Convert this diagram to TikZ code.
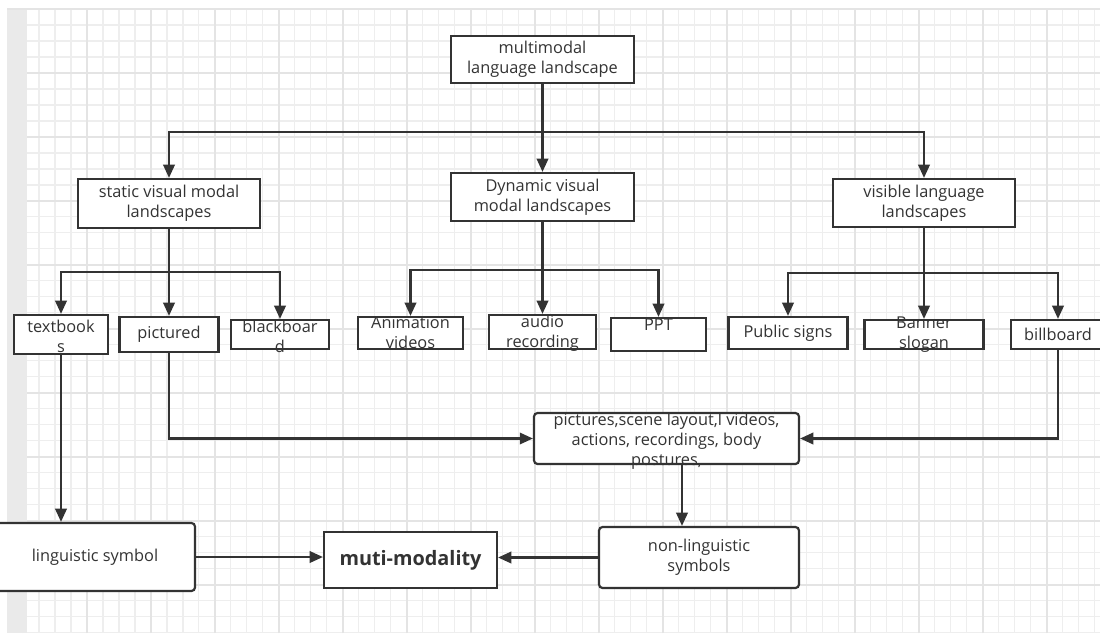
\documentclass[tikz,border=0pt]{standalone}
\usepackage{fontspec}
\setmainfont{Open Sans}
\usetikzlibrary{arrows.meta}

\definecolor{linegray}{HTML}{333333}
\definecolor{gridminor}{HTML}{EEEEEE}
\definecolor{gridmajor}{HTML}{E4E4E4}
\definecolor{stripgray}{HTML}{EAEAEA}

\begin{document}
\begin{tikzpicture}[x=0.02cm, y=-0.02cm,
  box/.style={rectangle, draw=linegray, line width=1.25pt, fill=white, inner sep=0pt,
              align=center, text=linegray, font=\fontsize{9.3}{11.4}\selectfont},
  rbox/.style={box, rounded corners=2pt},
  lbl/.style={align=center, text=linegray, inner sep=0pt, font=\fontsize{9.3}{11.4}\selectfont},
  arr/.style={draw=linegray, line width=1.25pt, -{Triangle[length=7.5pt,width=6.5pt]}}]

  % page and grid paper
  \useasboundingbox (0,0) rectangle (1100,633);
  \clip (0,0) rectangle (1100,633);
  \fill[white] (0,0) rectangle (1100,633);
  \begin{scope}[shift={(23,9)}]
    \draw[gridminor, line width=0.6pt] (0,0) grid[step=0.32cm] (1077,624);
    \draw[gridmajor, line width=0.8pt] (0,0) grid[step=1.28cm] (1077,624);
  \end{scope}
  \fill[stripgray] (7,9) rectangle (27,633);
  \draw[gridmajor, line width=0.8pt] (7,9) -- (1100,9);

  % top
  \node[box, minimum width=3.66cm, minimum height=0.94cm] (landscape)
        at (542.5,59.5) {multimodal\\language landscape};

  % second level
  \node[box, minimum width=3.64cm, minimum height=0.98cm] (static)
        at (169,203.5) {static visual modal\\landscapes};
  \node[box, minimum width=3.66cm, minimum height=0.96cm] (dynamic)
        at (542.5,197) {Dynamic visual\\modal landscapes};
  \node[box, minimum width=3.64cm, minimum height=0.96cm] (visible)
        at (924,203) {visible language\\landscapes};

  \coordinate (hub-top) at (542.5,132);
  \draw[arr] (landscape.south) -- (hub-top) -| (static.north);
  \draw[arr] (landscape.south) -- (dynamic.north);
  \draw[arr] (hub-top) -| (visible.north);

  % static children
  \node[box, minimum width=1.88cm, minimum height=0.78cm] (textbooks) at (61,334.5) {};
  \node[lbl] (textbooks-t) at (61,336) {textbook\\s};
  \node[box, minimum width=1.98cm, minimum height=0.70cm] (pictured) at (169,334.5) {pictured};
  \node[box, minimum width=1.96cm, minimum height=0.58cm] (blackboard) at (280,334.5) {};
  \node[lbl] (blackboard-t) at (280,336) {blackboar\\d};

  \coordinate (hub-static) at (169,272);
  \draw[arr] (static.south) -- (hub-static) -| (textbooks.north);
  \draw[arr] (hub-static) -- (pictured.north);
  \draw[arr] (hub-static) -| (blackboard.north);

  % dynamic children
  \node[box, minimum width=2.10cm, minimum height=0.64cm] (animation) at (410.5,333) {};
  \node[lbl] (animation-t) at (410.5,333) {Animation\\videos};
  \node[box, minimum width=2.14cm, minimum height=0.68cm] (audio) at (542.5,332) {};
  \node[lbl] (audio-t) at (542.5,333) {audio\\recording};
  \node[box, minimum width=1.90cm, minimum height=0.66cm] (ppt) at (658.5,334.5) {};
  \node[lbl] (ppt-t) at (658.5,325) {PPT};

  \coordinate (hub-dynamic) at (542.5,270);
  \draw[arr] (dynamic.south) -- (hub-dynamic) -| (animation.north);
  \draw[arr] (hub-dynamic) -- (audio.north);
  \draw[arr] (hub-dynamic) -| (ppt.north);

  % visible children
  \node[box, minimum width=2.38cm, minimum height=0.64cm] (public) at (788,333) {Public signs};
  \node[box, minimum width=2.38cm, minimum height=0.58cm] (banner) at (924,334.5) {};
  \node[lbl] (banner-t) at (924,335) {Banner\\slogan};
  \node[box, minimum width=1.88cm, minimum height=0.58cm] (billboard) at (1058,334.5) {billboard};

  \coordinate (hub-visible) at (924,273);
  \draw[arr] (visible.south) -- (hub-visible) -| (public.north);
  \draw[arr] (hub-visible) -- (banner.north);
  \draw[arr] (hub-visible) -| (billboard.north);

  % non-linguistic resources
  \node[rbox, minimum width=5.30cm, minimum height=1.02cm] (scene) at (666.5,438.5) {};
  \node[lbl] (scene-t) at (666.5,441)
        {pictures,scene layout,l videos,\\actions, recordings, body\\postures,};

  \draw[arr] (pictured.south) |- (scene.west);
  \draw[arr] (billboard.south) |- (scene.east);

  % bottom row
  \node[rbox, minimum width=4.00cm, minimum height=1.36cm] (linguistic)
        at (95,557) {linguistic symbol};
  \node[box, minimum width=3.46cm, minimum height=1.12cm,
        font=\fontsize{11.3}{13}\selectfont\bfseries] (muti) at (410.5,560) {muti-modality};
  \node[rbox, minimum width=4.00cm, minimum height=1.22cm] (nonling)
        at (699,557.5) {non-linguistic\\symbols};

  \draw[arr] (textbooks.south) -- (textbooks.south |- linguistic.north);
  \draw[arr] ([xshift=0.31cm]scene.south) -- ([xshift=0.31cm]scene.south |- nonling.north);
  \draw[arr] (linguistic.east) -- (linguistic.east -| muti.west);
  \draw[arr] (nonling.west) -- (nonling.west -| muti.east);

\end{tikzpicture}
\end{document}
